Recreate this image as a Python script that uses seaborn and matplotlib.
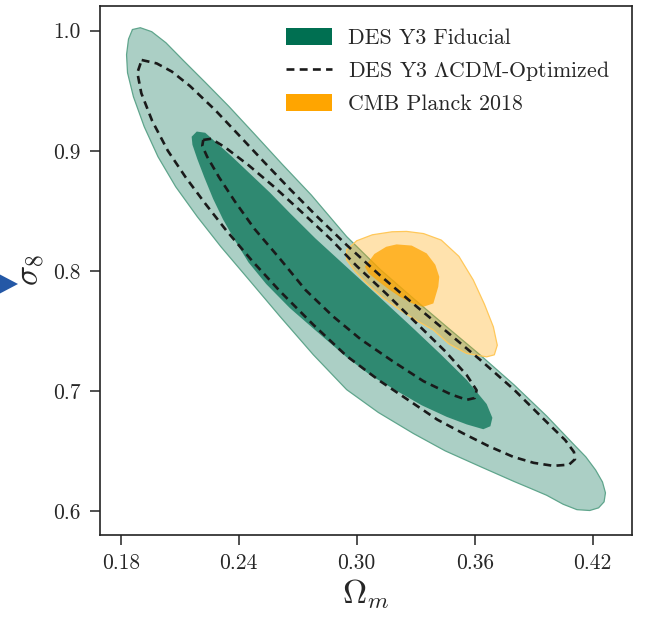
import numpy as np
import matplotlib
matplotlib.use('Agg')
import matplotlib.pyplot as plt
from matplotlib.patches import Patch, Polygon
from matplotlib.lines import Line2D
import seaborn as sns

# contour outlines (Omega_m, sigma_8)
fid95_om = [0.1860, 0.1900, 0.1958, 0.2030, 0.2120, 0.2230, 0.2350, 0.2480, 0.2620, 0.2770,
            0.2949, 0.3120, 0.3288, 0.3460, 0.3627, 0.3800, 0.3966, 0.4100, 0.4165, 0.4215,
            0.4250, 0.4265, 0.4258, 0.4230, 0.4185, 0.4120, 0.4050, 0.3966, 0.3880, 0.3800,
            0.3627, 0.3450, 0.3288, 0.3110, 0.2949, 0.2780, 0.2610, 0.2450, 0.2310, 0.2190,
            0.2080, 0.1990, 0.1920, 0.1865, 0.1835, 0.1830, 0.1840]
fid95_s8 = [1.0010, 1.0025, 0.9992, 0.9900, 0.9750, 0.9570, 0.9370, 0.9140, 0.8890, 0.8630,
            0.8285, 0.8010, 0.7770, 0.7530, 0.7300, 0.7050, 0.6790, 0.6560, 0.6450, 0.6340,
            0.6240, 0.6150, 0.6075, 0.6025, 0.6003, 0.6010, 0.6055, 0.6130, 0.6190, 0.6245,
            0.6370, 0.6500, 0.6645, 0.6820, 0.7010, 0.7300, 0.7620, 0.7930, 0.8200, 0.8450,
            0.8700, 0.8950, 0.9200, 0.9450, 0.9650, 0.9800, 0.9930]

fid68_om = [0.2161, 0.2187, 0.2230, 0.2271, 0.2360, 0.2457, 0.2560, 0.2661, 0.2790, 0.2930,
            0.3110, 0.3288, 0.3430, 0.3560, 0.3661, 0.3690, 0.3680, 0.3644, 0.3560, 0.3458,
            0.3330, 0.3203, 0.3070, 0.2949, 0.2800, 0.2660, 0.2540, 0.2450, 0.2380, 0.2320,
            0.2270, 0.2225, 0.2190, 0.2165]
fid68_s8 = [0.9117, 0.9160, 0.9150, 0.9090, 0.8960, 0.8810, 0.8650, 0.8480, 0.8270, 0.8060,
            0.7790, 0.7520, 0.7300, 0.7090, 0.6890, 0.6775, 0.6705, 0.6680, 0.6720, 0.6783,
            0.6880, 0.7000, 0.7130, 0.7280, 0.7490, 0.7690, 0.7890, 0.8070, 0.8256, 0.8430,
            0.8600, 0.8780, 0.8930, 0.9050]

opt95_om = [0.1907, 0.1983, 0.2060, 0.2152, 0.2280, 0.2407, 0.2530, 0.2661, 0.2800, 0.2949,
            0.3120, 0.3288, 0.3460, 0.3627, 0.3800, 0.3966, 0.4060, 0.4105, 0.4110, 0.4080,
            0.4000, 0.3900, 0.3796, 0.3670, 0.3542, 0.3410, 0.3288, 0.3120, 0.2949, 0.2780,
            0.2610, 0.2470, 0.2340, 0.2230, 0.2130, 0.2040, 0.1960, 0.1905, 0.1885]
opt95_s8 = [0.9756, 0.9728, 0.9660, 0.9540, 0.9340, 0.9120, 0.8905, 0.8680, 0.8450, 0.8215,
            0.7960, 0.7725, 0.7490, 0.7260, 0.7010, 0.6740, 0.6590, 0.6490, 0.6430, 0.6385,
            0.6375, 0.6400, 0.6450, 0.6540, 0.6645, 0.6760, 0.6895, 0.7080, 0.7290, 0.7550,
            0.7830, 0.8080, 0.8330, 0.8560, 0.8780, 0.9000, 0.9250, 0.9480, 0.9650]

opt68_om = [0.2220, 0.2260, 0.2330, 0.2450, 0.2580, 0.2720, 0.2870, 0.3000, 0.3150, 0.3300,
            0.3450, 0.3560, 0.3610, 0.3600, 0.3560, 0.3480, 0.3340, 0.3180, 0.3020, 0.2880,
            0.2740, 0.2610, 0.2480, 0.2380, 0.2300, 0.2240, 0.2215]
opt68_s8 = [0.9090, 0.9100, 0.9030, 0.8880, 0.8700, 0.8490, 0.8260, 0.8040, 0.7810, 0.7570,
            0.7330, 0.7130, 0.7005, 0.6940, 0.6925, 0.6970, 0.7080, 0.7250, 0.7430, 0.7620,
            0.7840, 0.8100, 0.8350, 0.8580, 0.8780, 0.8950, 0.9040]

planck95_om = [0.2949, 0.3000, 0.3080, 0.3180, 0.3254, 0.3340, 0.3430, 0.3520, 0.3593, 0.3650,
               0.3695, 0.3715, 0.3700, 0.3661, 0.3559, 0.3470, 0.3390, 0.3300, 0.3220, 0.3130,
               0.3051, 0.2990, 0.2949]
planck95_s8 = [0.8173, 0.8250, 0.8300, 0.8325, 0.8328, 0.8310, 0.8256, 0.8120, 0.7923, 0.7720,
               0.7533, 0.7380, 0.7300, 0.7283, 0.7311, 0.7390, 0.7506, 0.7590, 0.7673, 0.7780,
               0.7895, 0.8000, 0.8090]

planck68_om = [0.3042, 0.3090, 0.3150, 0.3203, 0.3280, 0.3356, 0.3400, 0.3420, 0.3415, 0.3390,
               0.3339, 0.3280, 0.3220, 0.3160, 0.3102, 0.3060]
planck68_s8 = [0.8033, 0.8140, 0.8200, 0.8220, 0.8210, 0.8145, 0.8050, 0.7950, 0.7867, 0.7728,
               0.7700, 0.7730, 0.7783, 0.7850, 0.7923, 0.7980]

x_ticks = [0.18, 0.24, 0.30, 0.36, 0.42]
y_ticks = [0.6, 0.7, 0.8, 0.9, 1.0]

labels = ['DES Y3 Fiducial', r'DES Y3 $\Lambda$CDM-Optimized', 'CMB Planck 2018']

green = '#006F51'
orange = '#FFA500'

sns.set_style('ticks')
plt.rcParams['font.family'] = 'serif'
plt.rcParams['font.serif'] = ['cmr10', 'DejaVu Serif']
plt.rcParams['mathtext.fontset'] = 'cm'
plt.rcParams['axes.formatter.use_mathtext'] = True
plt.rcParams['axes.unicode_minus'] = False


def closed(a):
    return np.append(a, a[0])


fig = plt.figure(figsize=(6.47, 6.24), dpi=100)
ax = fig.add_axes([100 / 647, 89.5 / 624, 532 / 647, 528.5 / 624])

ax.fill(fid95_om, fid95_s8, facecolor=green, alpha=0.33, edgecolor='none', zorder=1)
ax.plot(closed(fid95_om), closed(fid95_s8), color='#5FA58C', lw=0.9, zorder=1.1)
ax.fill(fid68_om, fid68_s8, facecolor=green, alpha=0.72, edgecolor='none', zorder=2)

ax.fill(planck95_om, planck95_s8, facecolor=orange, alpha=0.32, edgecolor='none', zorder=3)
ax.plot(closed(planck95_om), closed(planck95_s8), color='#FFC85A', lw=0.9, zorder=3.1)
ax.fill(planck68_om, planck68_s8, facecolor=orange, alpha=0.75, edgecolor='none', zorder=4)

for om, s8 in [(opt95_om, opt95_s8), (opt68_om, opt68_s8)]:
    sns.lineplot(x=closed(om), y=closed(s8), sort=False, estimator=None, ax=ax,
                 color='#1a1a1a', lw=1.9, linestyle=(0, (3, 2)), zorder=5)

ax.set_xlim(0.1695, 0.44)
ax.set_ylim(0.5803, 1.0206)
ax.set_xticks(x_ticks)
ax.set_xticklabels([f'{v:.2f}' for v in x_ticks])
ax.set_yticks(y_ticks)
ax.set_yticklabels([f'{v:.1f}' for v in y_ticks])
ax.tick_params(labelsize=15.5, length=7, width=1.1, pad=7, color='#222222')
for s in ax.spines.values():
    s.set_linewidth(1.2)
    s.set_color('#222222')

ax.set_xlabel(r'$\Omega_m$', fontsize=24, labelpad=3)
ax.set_ylabel(r'$\sigma_8$', fontsize=24, labelpad=5)

handles = [Patch(facecolor=green, edgecolor='none'),
           Line2D([], [], color='#1a1a1a', lw=1.9, linestyle=(0, (3, 2))),
           Patch(facecolor=orange, edgecolor='none')]
ax.legend(handles, labels, loc='upper right', frameon=False, fontsize=15.75,
          handlelength=2.1, handleheight=0.8, labelspacing=0.5, handletextpad=0.75,
          borderaxespad=0.62)

# blue arrow tip from the slide, cut by the left edge
fig.patches.append(Polygon([(-20 / 647, 1 - 264 / 624), (18 / 647, 1 - 284 / 624),
                            (-20 / 647, 1 - 304 / 624)], closed=True,
                           transform=fig.transFigure, facecolor='#2458A6',
                           edgecolor='none', figure=fig))

fig.savefig('out.png', dpi=100)
